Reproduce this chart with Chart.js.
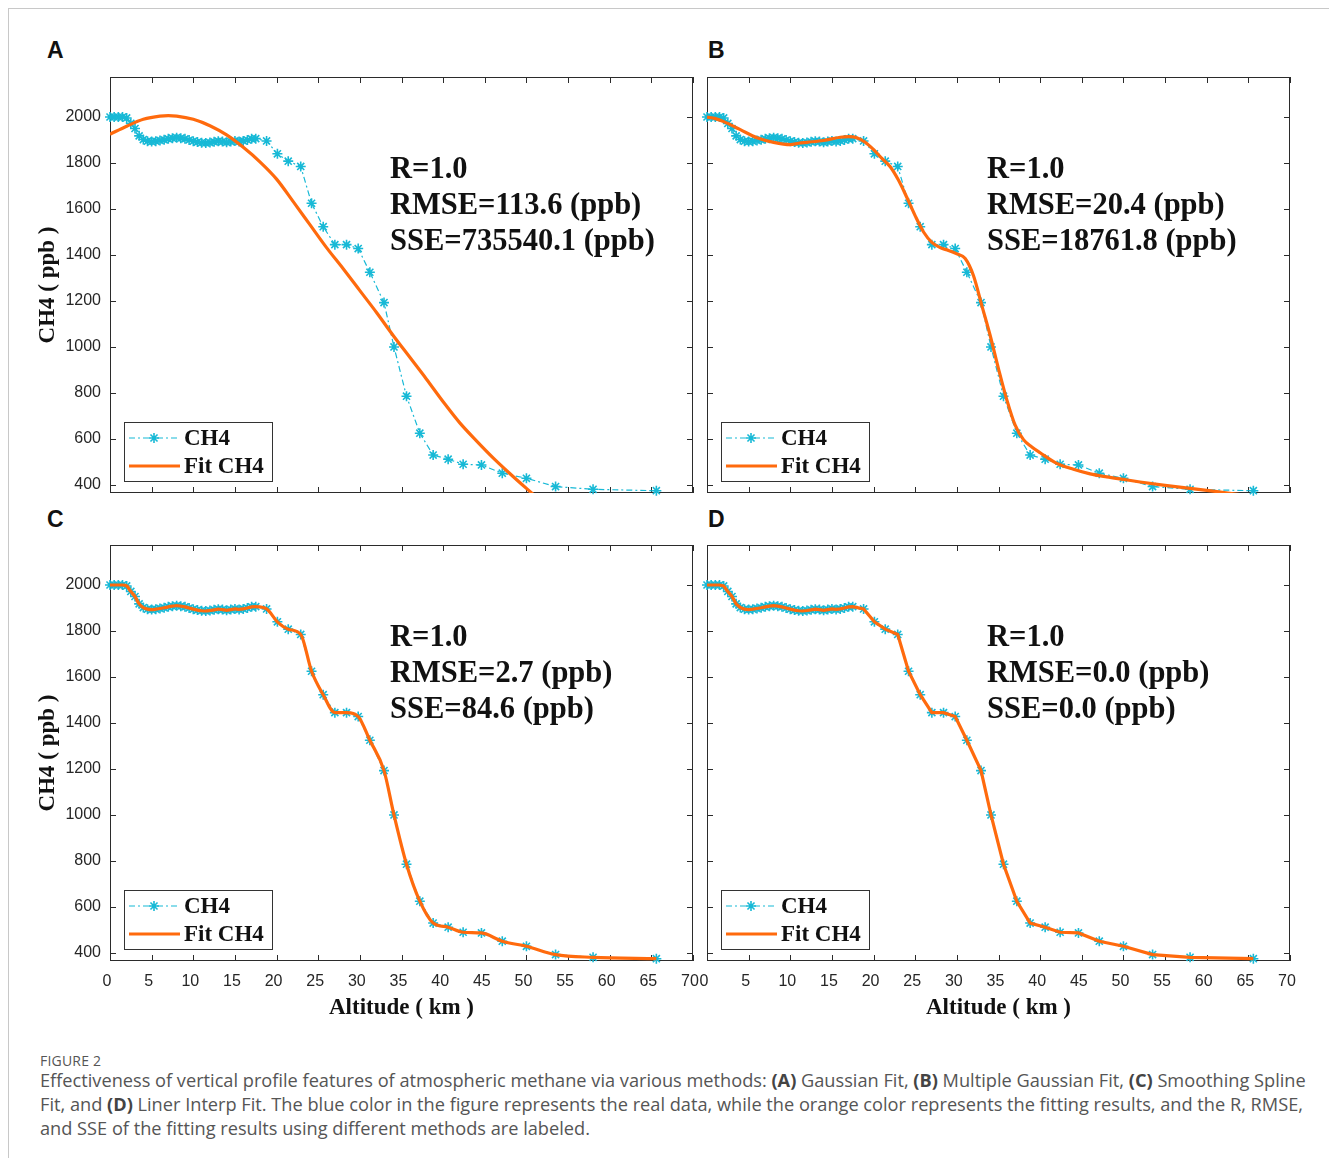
<!DOCTYPE html>
<html>
<head>
<meta charset="utf-8">
<script src="https://cdn.jsdelivr.net/npm/chart.js@4.4.0/dist/chart.umd.min.js"></script>
<style>
body { margin: 0; background: #fff; width: 1329px; height: 1158px; position: relative; overflow: hidden; }
.frame { position: absolute; left: 8px; top: 8px; width: 1330px; height: 1160px; border-left: 1px solid #c8c8c8; border-top: 1px solid #c8c8c8; }
canvas { position: absolute; }
.tag { position: absolute; font: bold 23px "Liberation Sans", Arial, sans-serif; color: #111; line-height: 26px; }
.cap { position: absolute; left: 40px; color: #555; font-family: "Open Sans", sans-serif; white-space: nowrap; }
.cap b { color: #444; }
</style>
</head>
<body>
<div class="frame"></div>
<div class="tag" style="left:47px;top:37px">A</div>
<div class="tag" style="left:708px;top:37px">B</div>
<div class="tag" style="left:47px;top:506px">C</div>
<div class="tag" style="left:708px;top:506px">D</div>

<canvas id="pA" width="710" height="440" style="left:0;top:60px"></canvas>
<canvas id="pB" width="620" height="440" style="left:697px;top:60px"></canvas>
<canvas id="pC" width="710" height="500" style="left:0;top:528px"></canvas>
<canvas id="pD" width="620" height="500" style="left:697px;top:528px"></canvas>

<div class="cap" style="top:1051px;font-size:14px;letter-spacing:0.2px">FIGURE 2</div>
<div class="cap" style="top:1068px;font-size:18.2px;line-height:24px">
Effectiveness of vertical profile features of atmospheric methane via various methods: <b>(A)</b> Gaussian Fit, <b>(B)</b> Multiple Gaussian Fit, <b>(C)</b> Smoothing Spline<br>
Fit, and <b>(D)</b> Liner Interp Fit. The blue color in the figure represents the real data, while the orange color represents the fitting results, and the R, RMSE,<br>
and SSE of the fitting results using different methods are labeled.
</div>

<script>
// measured CH4 profile (altitude in km, CH4 in ppb)
const altitudeKm = [0, 0.5, 1, 1.5, 2, 2.5, 3, 3.5, 4, 4.5, 5, 5.5, 6, 6.5, 7, 7.5, 8, 8.5, 9, 9.5,
    10, 10.5, 11, 11.5, 12, 12.5, 13, 13.5, 14, 14.5, 15, 15.5, 16, 16.5, 17, 17.5,
    18.8, 20.1, 21.4, 22.9, 24.2, 25.6, 27.0, 28.4, 29.8, 31.2, 32.9, 34.1, 35.6, 37.2, 38.8,
    40.6, 42.4, 44.6, 47.1, 50.0, 53.5, 58.0, 65.6];
const ch4Ppb = [2000, 2000, 2000, 2000, 1996, 1972, 1950, 1918, 1902, 1895, 1893, 1895, 1898, 1901, 1905, 1908, 1910, 1908, 1905, 1900,
    1895, 1891, 1888, 1887, 1889, 1892, 1895, 1893, 1890, 1893, 1896, 1894, 1896, 1900, 1905, 1906,
    1896, 1840, 1808, 1785, 1625, 1523, 1445, 1445, 1428, 1325, 1193, 1000, 786, 625, 530,
    512, 490, 487, 451, 429, 393, 381, 375];

// (A) Gaussian fit
const gaussFitKm = [0, 2, 4, 6, 7, 8, 10, 12, 14, 16, 18, 20, 22, 24, 26, 28, 30, 32, 34, 36, 38, 40, 42, 44, 46, 48, 50, 52];
const gaussFitPpb = [1925, 1960, 1990, 2004, 2006, 2004, 1990, 1962, 1922, 1868, 1805, 1730, 1632, 1532, 1432, 1340, 1245, 1150, 1050, 955, 860, 762, 670, 592, 518, 450, 385, 322];

// (B) Multiple Gaussian fit
const multiGaussFitKm = [0, 1, 2, 4, 6, 8, 10, 11, 12, 14, 16, 17, 18, 19, 20, 21, 22, 23, 24, 25, 26, 27, 28, 29, 30, 31, 32, 33, 34, 35, 36, 37, 38, 39, 40, 42, 44, 46, 48, 50, 52, 55, 58, 61, 64];
const multiGaussFitPpb = [2000, 1993, 1980, 1945, 1910, 1890, 1880, 1886, 1890, 1898, 1912, 1915, 1910, 1890, 1858, 1820, 1784, 1725, 1650, 1570, 1500, 1455, 1432, 1420, 1405, 1385, 1310, 1180, 1050, 905, 770, 660, 597, 565, 540, 494, 468, 448, 435, 424, 413, 398, 385, 372, 358];

// (C) smoothing spline and (D) linear interp pass through the measured points
const splineFitPpb = ch4Ppb;
const interpFitPpb = ch4Ppb;

const xTicks = [0, 5, 10, 15, 20, 25, 30, 35, 40, 45, 50, 55, 60, 65, 70];
const yTicks = [400, 600, 800, 1000, 1200, 1400, 1600, 1800, 2000];

const statsA = ['R=1.0', 'RMSE=113.6 (ppb)', 'SSE=735540.1 (ppb)'];
const statsB = ['R=1.0', 'RMSE=20.4 (ppb)', 'SSE=18761.8 (ppb)'];
const statsC = ['R=1.0', 'RMSE=2.7 (ppb)', 'SSE=84.6 (ppb)'];
const statsD = ['R=1.0', 'RMSE=0.0 (ppb)', 'SSE=0.0 (ppb)'];

const CYAN = '#17b9d6';
const ORANGE = '#ff6a0d';
const AXIS = '#2b2b2b';
const SERIF = '"Liberation Serif", "Times New Roman", serif';
const SANS = '"Liberation Sans", Arial, sans-serif';

function star(ctx, x, y, r) {
    for (let k = 0; k < 4; k++) {
        const a = k * Math.PI / 4;
        ctx.moveTo(x - r * Math.cos(a), y - r * Math.sin(a));
        ctx.lineTo(x + r * Math.cos(a), y + r * Math.sin(a));
    }
}

// MATLAB-like box with inward ticks, stats text and legend
const panelDecor = {
    id: 'panelDecor',
    beforeDatasetsDraw(chart) {
        const { ctx, chartArea: a, scales: { x, y } } = chart;
        ctx.save();
        ctx.strokeStyle = AXIS;
        ctx.lineWidth = 1;
        ctx.strokeRect(a.left + 0.5, a.top + 0.5, a.right - a.left - 1, a.bottom - a.top - 1);
        ctx.beginPath();
        x.ticks.forEach(t => {
            const px = Math.round(x.getPixelForValue(t.value)) + 0.5;
            ctx.moveTo(px, a.bottom); ctx.lineTo(px, a.bottom - 6);
            ctx.moveTo(px, a.top); ctx.lineTo(px, a.top + 6);
        });
        y.ticks.forEach(t => {
            const py = Math.round(y.getPixelForValue(t.value)) + 0.5;
            ctx.moveTo(a.left, py); ctx.lineTo(a.left + 6, py);
            ctx.moveTo(a.right, py); ctx.lineTo(a.right - 6, py);
        });
        ctx.stroke();
        ctx.restore();
    },
    afterDatasetsDraw(chart, args, opts) {
        const { ctx, chartArea: a } = chart;
        ctx.save();
        ctx.fillStyle = '#111';
        ctx.font = 'bold 30.5px ' + SERIF;
        ctx.textBaseline = 'alphabetic';
        opts.stats.forEach((s, i) => ctx.fillText(s, a.left + 280, a.top + 101 + 36 * i));

        // legend
        const bx = a.left + 14, by = a.bottom - 71, bw = 148, bh = 59;
        ctx.fillStyle = '#fff';
        ctx.fillRect(bx, by, bw, bh);
        ctx.strokeStyle = '#333';
        ctx.lineWidth = 1;
        ctx.strokeRect(bx + 0.5, by + 0.5, bw, bh);
        const ds = chart.data.datasets;
        const rows = [by + 16, by + 44];
        ds.forEach((d, i) => {
            const ry = rows[i];
            ctx.beginPath();
            ctx.strokeStyle = d.borderColor;
            ctx.lineWidth = d.borderWidth;
            ctx.setLineDash(d.borderDash || []);
            ctx.moveTo(bx + 5, ry); ctx.lineTo(bx + 56, ry);
            ctx.stroke();
            ctx.setLineDash([]);
            if (d.pointRadius > 0) {
                ctx.beginPath();
                ctx.lineWidth = d.pointBorderWidth;
                star(ctx, bx + 30, ry, d.pointRadius);
                ctx.stroke();
            }
            ctx.fillStyle = '#111';
            ctx.font = 'bold 23px ' + SERIF;
            ctx.textBaseline = 'middle';
            ctx.fillText(d.label, bx + 60, ry + 1);
        });
        ctx.restore();
    }
};

const toPoints = (xs, ys) => xs.map((v, i) => ({ x: v, y: ys[i] }));

// keep the plot boxes where they are: no extra room for overhanging labels
const noOverhang = s => { s.paddingLeft = 0; s.paddingRight = 0; s.paddingTop = 0; s.paddingBottom = 0; };

const panels = [
    { id: 'pA', fitX: gaussFitKm, fitY: gaussFitPpb, stats: statsA, showX: false, showY: true, curve: 'monotone', padRight: 17 },
    { id: 'pB', fitX: multiGaussFitKm, fitY: multiGaussFitPpb, stats: statsB, showX: false, showY: false, curve: 'monotone', padRight: 27 },
    { id: 'pC', fitX: altitudeKm, fitY: splineFitPpb, stats: statsC, showX: true, showY: true, curve: 'monotone', padRight: 17 },
    { id: 'pD', fitX: altitudeKm, fitY: interpFitPpb, stats: statsD, showX: true, showY: false, curve: 'linear', padRight: 27 }
];

panels.forEach(p => {
    new Chart(document.getElementById(p.id), {
        type: 'line',
        data: {
            datasets: [{
                label: 'CH4',
                data: toPoints(altitudeKm, ch4Ppb),
                borderColor: CYAN,
                borderWidth: 1.2,
                borderDash: [6, 3, 2, 3],
                pointStyle: 'star',
                pointRadius: 5,
                pointBorderColor: CYAN,
                pointBackgroundColor: CYAN,
                pointBorderWidth: 1.6,
                fill: false,
                order: 2,
                clip: 8
            }, {
                label: 'Fit CH4',
                data: toPoints(p.fitX, p.fitY),
                borderColor: ORANGE,
                borderWidth: 3.2,
                pointRadius: 0,
                fill: false,
                order: 1,
                cubicInterpolationMode: p.curve === 'monotone' ? 'monotone' : 'default',
                tension: 0
            }]
        },
        options: {
            responsive: false,
            animation: false,
            devicePixelRatio: 1,
            layout: { padding: { top: 17, right: p.padRight, left: 0, bottom: 0 } },
            plugins: {
                legend: { display: false },
                tooltip: { enabled: false },
                panelDecor: { stats: p.stats }
            },
            scales: {
                x: {
                    type: 'linear',
                    min: 0,
                    max: 70,
                    afterBuildTicks: s => { s.ticks = xTicks.map(v => ({ value: v })); },
                    afterFit: s => { s.height = p.showX ? 67 : 7; noOverhang(s); },
                    grid: { display: false, drawTicks: false },
                    border: { display: false },
                    ticks: { display: p.showX, padding: 11, labelOffset: -3, color: '#262626', font: { family: SANS, size: 16 }, callback: v => String(v) },
                    title: {
                        display: p.showX, text: 'Altitude ( km )', color: '#111',
                        font: { family: SERIF, size: 23, weight: 'bold' }, padding: { top: 0, bottom: 6 }
                    }
                },
                y: {
                    type: 'linear',
                    min: 365,
                    max: 2174,
                    afterBuildTicks: s => { s.ticks = yTicks.map(v => ({ value: v })); },
                    afterFit: s => { s.width = p.showY ? 110 : 10; noOverhang(s); },
                    grid: { display: false, drawTicks: false },
                    border: { display: false },
                    ticks: { display: p.showY, padding: 9, color: '#262626', font: { family: SANS, size: 16 }, callback: v => String(v) },
                    title: {
                        display: p.showY, text: 'CH4 ( ppb )', color: '#111',
                        font: { family: SERIF, size: 23, weight: 'bold' }, padding: { top: 34, bottom: 0 }
                    }
                }
            }
        },
        plugins: [panelDecor]
    });
});
</script>
</body>
</html>
